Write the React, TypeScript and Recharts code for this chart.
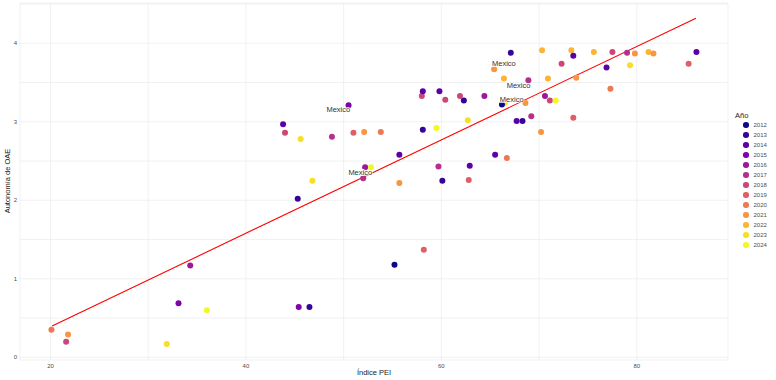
import { ScatterChart, Scatter, XAxis, YAxis, CartesianGrid, Label } from "recharts";

const years = [2012, 2013, 2014, 2015, 2016, 2017, 2018, 2019, 2020, 2021, 2022, 2023, 2024];
const yearColors = [
  "#0D0887", "#350498", "#5C01A6", "#7E03A8", "#9C179E", "#B52F8C", "#CC4778",
  "#DE5F65", "#ED7953", "#F79540", "#FCB433", "#F8DF25", "#F0F921",
];

// Índice PEI, Autonomía de OAE and year of each point
const peiValues = [
  20.1, 21.8, 21.6, 31.9, 33.1, 34.3, 36.0, 45.3, 46.8, 45.4, 46.5, 55.2, 58.2, 55.7, 60.1,
  62.8, 50.5, 43.8, 44.0, 45.6, 48.8, 51.0, 52.1, 53.8, 58.0, 58.1, 59.8, 60.4, 61.9, 62.3,
  64.4, 65.4, 58.1, 59.5, 62.7, 55.7, 52.2, 52.8, 52.0, 59.7, 62.9, 65.5, 66.7, 67.1, 70.3,
  73.3, 73.5, 75.6, 77.5, 79.0, 79.8, 81.2, 81.7, 86.1, 72.3, 76.9, 79.3, 85.3, 66.4, 68.9,
  70.9, 73.8, 77.3, 70.6, 71.1, 71.7, 66.5, 66.2, 68.6, 69.2, 67.7, 68.3, 73.5, 70.2,
];
const oaeValues = [
  0.35, 0.29, 0.2, 0.17, 0.69, 1.17, 0.6, 2.02, 2.25, 0.64, 0.64, 1.18, 1.37, 2.22, 2.25,
  2.26, 3.21, 2.97, 2.86, 2.78, 2.81, 2.86, 2.87, 2.87, 3.33, 3.39, 3.39, 3.28, 3.33, 3.27,
  3.33, 3.67, 2.9, 2.92, 3.02, 2.58, 2.42, 2.42, 2.28, 2.43, 2.44, 2.58, 2.54, 3.88, 3.91,
  3.91, 3.84, 3.89, 3.89, 3.88, 3.87, 3.89, 3.87, 3.89, 3.74, 3.69, 3.72, 3.74, 3.55, 3.53,
  3.55, 3.56, 3.42, 3.33, 3.27, 3.27, 3.24, 3.22, 3.24, 3.07, 3.01, 3.01, 3.05, 2.87,
];
const pointYears = [
  2020, 2021, 2018, 2023, 2015, 2016, 2024, 2013, 2023, 2015, 2013, 2012, 2019, 2021, 2013,
  2019, 2015, 2014, 2018, 2023, 2017, 2019, 2021, 2020, 2018, 2014, 2014, 2018, 2018, 2013,
  2016, 2021, 2013, 2024, 2023, 2014, 2016, 2024, 2017, 2017, 2014, 2014, 2020, 2013, 2022,
  2022, 2014, 2022, 2018, 2017, 2021, 2022, 2021, 2014, 2018, 2014, 2023, 2019, 2022, 2017,
  2022, 2021, 2020, 2016, 2018, 2024, 2023, 2012, 2021, 2017, 2014, 2013, 2019, 2021,
];

// linear fit end points
const fitX = [20.17, 86.05];
const fitY = [0.4, 4.32];

// "Mexico" annotations
const mexicoX = [49.45, 66.4, 67.9, 67.2, 51.7];
const mexicoY = [3.15, 3.73, 3.46, 3.28, 2.35];

const xTicks = [20, 30, 40, 50, 60, 70, 80];
const yTicks = [0, 0.5, 1, 1.5, 2, 2.5, 3, 3.5, 4, 4.5];

const font = "'Liberation Sans', Arial, sans-serif";

const colorOf = (year: number) => yearColors[years.indexOf(year)];

export default function App() {
  const points = peiValues.map((x, i) => ({ x, y: oaeValues[i], year: pointYears[i] }));
  const fitData = fitX.map((x, i) => ({ x, y: fitY[i] }));
  const labelData = mexicoX.map((x, i) => ({ x, y: mexicoY[i] }));

  return (
    <div style={{ position: "absolute", left: 0, top: 0, width: 776, height: 380, background: "#fff", fontFamily: font }}>
      <ScatterChart width={776} height={380} margin={{ top: 3, right: 48, bottom: 0, left: 0 }}>
        <CartesianGrid stroke="#EBEBEB" strokeWidth={0.7} />
        <XAxis
          type="number"
          dataKey="x"
          domain={[16.88, 89.33]}
          ticks={xTicks}
          tickFormatter={(v: number) => (v % 20 === 0 ? String(v) : "")}
          axisLine={false}
          tickLine={false}
          tickSize={0}
          tickMargin={4}
          height={20}
          tick={{ fontSize: 6, fill: "#4D4D4D", fontFamily: font }}
        >
          <Label
            content={() => (
              <text x={374} y={375} textAnchor="middle" fontSize={7.5} fill="#222" fontFamily={font}>
                Índice PEI
              </text>
            )}
          />
        </XAxis>
        <YAxis
          type="number"
          dataKey="y"
          domain={[-0.034, 4.513]}
          ticks={yTicks}
          tickFormatter={(v: number) => (Number.isInteger(v) ? String(v) : "")}
          axisLine={false}
          tickLine={false}
          tickSize={0}
          tickMargin={3}
          width={20}
          tick={{ fontSize: 6, fill: "#4D4D4D", fontFamily: font }}
        >
          <Label
            content={() => (
              <text
                x={8}
                y={181}
                textAnchor="middle"
                dominantBaseline="middle"
                fontSize={7.5}
                fill="#222"
                fontFamily={font}
                transform="rotate(-90 8 181)"
              >
                Autonomía de OAE
              </text>
            )}
          />
        </YAxis>
        <Scatter
          data={fitData}
          isAnimationActive={false}
          line={{ stroke: "#FF0000", strokeWidth: 1.1 }}
          lineType="joint"
          shape={() => <g />}
        />
        <Scatter
          data={points}
          isAnimationActive={false}
          shape={(p: any) => {
            const year = p.payload?.year ?? p.year;
            return <circle cx={p.cx} cy={p.cy} r={3} fill={colorOf(year)} />;
          }}
        />
        <Scatter
          data={labelData}
          isAnimationActive={false}
          shape={(p: any) => (
            <text
              x={p.cx}
              y={p.cy}
              textAnchor="middle"
              dominantBaseline="middle"
              fontSize={7.5}
              fill="#333"
              fontFamily={font}
              stroke="#fff"
              strokeWidth={1.5}
              paintOrder="stroke"
            >
              Mexico
            </text>
          )}
        />
      </ScatterChart>
      <div style={{ position: "absolute", left: 735, top: 111, fontSize: 7.5, color: "#222" }}>Año</div>
      {years.map((year, i) => (
        <div
          key={year}
          style={{ position: "absolute", left: 743, top: 122 + i * 10, height: 6, display: "flex", alignItems: "center" }}
        >
          <span
            style={{ width: 5.5, height: 5.5, borderRadius: "50%", background: yearColors[i], display: "inline-block" }}
          />
          <span style={{ marginLeft: 5, fontSize: 6, color: "#4D4D4D", lineHeight: "6px" }}>{year}</span>
        </div>
      ))}
    </div>
  );
}
